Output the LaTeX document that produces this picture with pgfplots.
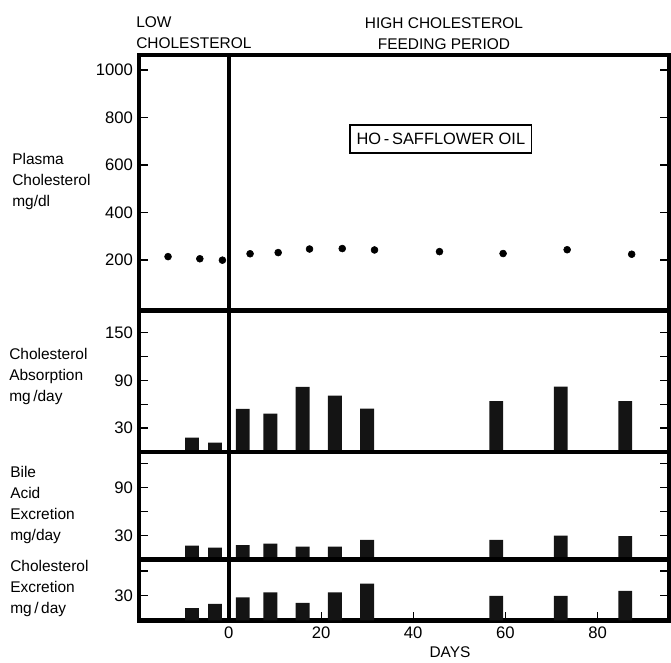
\documentclass[border=0pt]{standalone}
\usepackage{fontspec}
\setmainfont{Liberation Sans}
\usepackage{pgfplots}
\pgfplotsset{compat=1.18}
\pgfplotsset{
  panel/.style={
    scale only axis, width=397.5pt, xmin=-19.5, xmax=95.5,
    axis line style={line width=3.4pt, line cap=rect},
    tick style={line width=1pt, black},
    major tick length=6.5pt,
    ytick pos=both, tick align=inside,
    xtick=\empty,
    /pgf/number format/assume math mode=true,
    /pgf/number format/1000 sep={},
    tick label style={font=\fontsize{12.5}{14}\selectfont},
    yticklabel style={xshift=-1pt},
    clip=false,
  },
  bars/.style={ybar, bar width=3, fill=black!92, draw=none},
  zeroline/.style={line width=2.6pt, black},
}
\begin{document}
\begin{tikzpicture}
\path[use as bounding box] (0,0) rectangle (503.25pt,497.25pt);

% Panel 1: plasma cholesterol
\begin{axis}[panel, at={(104.25pt,264pt)}, anchor=south west, height=192pt,
  ymin=-15, ymax=1063, ytick={200,400,600,800,1000}]
\addplot[zeroline] coordinates {(0,-15) (0,1063)};
\addplot[only marks, mark=*, mark size=2.6pt, black] coordinates {
(-13.2,214) (-6.3,205) (-1.4,199) (4.6,226) (10.7,231) (17.5,246)
(24.6,248) (31.6,242) (45.7,235) (59.5,227) (73.4,243) (87.4,224)};
\node[draw, line width=0.9pt, inner xsep=5pt, minimum height=21pt,
  font=\fontsize{12.3}{14}\selectfont] at (axis cs:46,709) {HO\,-\,SAFFLOWER OIL};
\end{axis}

% Panel 2: cholesterol absorption
\begin{axis}[panel, at={(104.25pt,158.25pt)}, anchor=south west, height=106.1pt,
  ymin=0, ymax=177.5, ytick={30,60,90,120,150}, yticklabels={30,,90,,150}]
\addplot[zeroline] coordinates {(0,0) (0,177.5)};
\addplot[bars] coordinates {
(-8,18) (-3,11.7) (3,54) (9,48) (16,81.7) (23,70.8) (30,54.5) (58,63.7) (72,82) (86,63.9)};
\end{axis}

% Panel 3: bile acid excretion
\begin{axis}[panel, at={(104.25pt,77.625pt)}, anchor=south west, height=80.6pt,
  ymin=0, ymax=134, ytick={30,60,90,120}, yticklabels={30,,90,}]
\addplot[zeroline] coordinates {(0,0) (0,134)};
\addplot[bars] coordinates {
(-8,17.3) (-3,14.8) (3,17.8) (9,19.8) (16,16) (23,16) (30,24.4) (58,24.4) (72,29.8) (86,29)};
\end{axis}

% Panel 4: cholesterol excretion
\begin{axis}[panel, at={(104.25pt,31.875pt)}, anchor=south west, height=45.75pt,
  ymin=0, ymax=74, ytick={30,60}, yticklabels={30,},
  xtick={0,20,40,60,80}, xtick pos=bottom,
  x tick style={line width=0.8pt}, xticklabel style={yshift=-1pt}]
\addplot[zeroline] coordinates {(0,0) (0,74)};
\addplot[bars] coordinates {
(-8,15.1) (-3,20.2) (3,28) (9,34) (16,21.4) (23,34) (30,44.8) (58,29.9) (72,29.9) (86,35.9)};
\end{axis}

% Texts
\begin{scope}[every node/.style={font=\fontsize{11.6}{15.75}\selectfont}]
\node[anchor=west, align=left, inner xsep=0pt] at (102pt,472.5pt) {LOW\\CHOLESTEROL};
\node[align=center] at (333pt,472.1pt) {HIGH CHOLESTEROL\\FEEDING PERIOD};
\node[anchor=west, align=left, inner xsep=0pt] at (9pt,360.75pt) {Plasma\\Cholesterol\\mg/dl};
\node[anchor=west, align=left, inner xsep=0pt] at (6.75pt,214.5pt) {Cholesterol\\Absorption\\mg\,/day};
\node[anchor=west, align=left, inner xsep=0pt] at (7.5pt,118.5pt) {Bile\\Acid\\Excretion\\mg/day};
\node[anchor=west, align=left, inner xsep=0pt] at (7.5pt,55.5pt) {Cholesterol\\Excretion\\mg\,/\,day};
\node at (337.5pt,8.25pt) {DAYS};
\end{scope}
\end{tikzpicture}
\end{document}
